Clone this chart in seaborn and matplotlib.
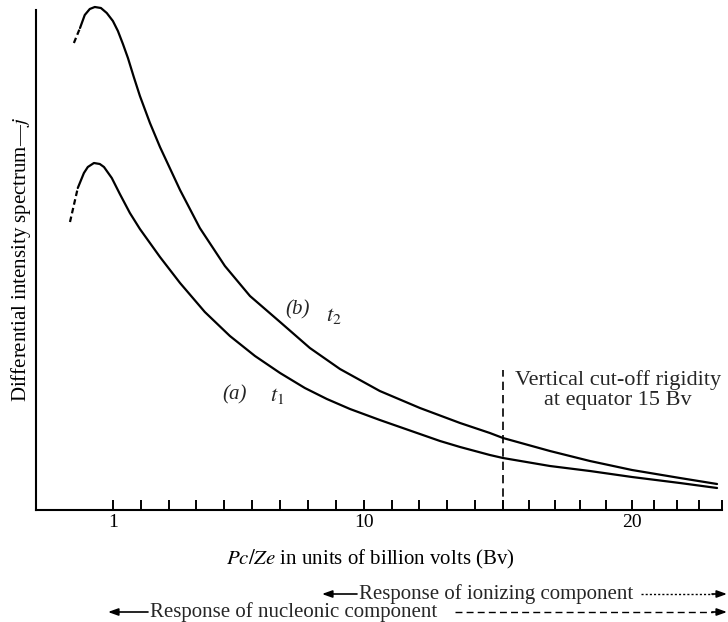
import numpy as np
import pandas as pd
import matplotlib
matplotlib.use("Agg")
import matplotlib.pyplot as plt
import seaborn as sns

# --- values (x in Bv, y in arbitrary units 0-100) ---
b_x = [-0.40, -0.18, -0.01, 0.17, 0.35, 0.57, 0.78, 1.00, 1.18, 1.36, 1.54,
       1.75, 1.97, 2.33, 2.69, 3.41, 4.12, 5.02, 5.92, 7.00, 8.07, 9.15,
       10.58, 12.02, 13.46, 14.53, 15.00, 16.82, 18.37, 20.00, 22.13, 23.78]
b_y = [93.4, 96.4, 99.0, 100.2, 100.6, 100.4, 99.4, 97.8, 95.8, 93.2, 90.4,
       86.6, 82.8, 77.4, 72.6, 64.0, 56.4, 48.8, 42.8, 37.6, 32.4, 28.2,
       23.8, 20.4, 17.4, 15.4, 14.4, 11.8, 9.8, 8.0, 6.4, 5.2]

a_x = [-0.54, -0.40, -0.26, -0.04, 0.10, 0.32, 0.53, 0.68, 0.96, 1.25, 1.61,
       1.97, 2.69, 3.41, 4.30, 5.20, 6.10, 7.00, 7.89, 8.68, 9.51, 10.58,
       12.74, 13.46, 14.53, 15.00, 16.82, 18.37, 20.00, 22.13, 23.78]
a_y = [57.6, 61.0, 64.4, 67.4, 68.6, 69.4, 69.2, 68.6, 66.4, 63.2, 59.4,
       56.2, 50.6, 45.4, 39.6, 34.8, 30.8, 27.4, 24.4, 22.2, 20.2, 18.0,
       13.8, 12.6, 11.0, 10.4, 8.8, 7.8, 6.6, 5.4, 4.4]

b_dashed = 2          # first points of each curve are drawn dashed
a_dashed = 3
cutoff = 15           # vertical cut-off rigidity (Bv)
cutoff_top = 28
label_ticks = [1, 10, 20]
all_ticks = list(range(1, 25))

# hand drawn axis: spacing shrinks a little towards the right
knots_x = [-10, 1, 15, 20, 24, 40]
knots_p = [-193.4, 113, 503, 632, 722, 1082]


def fwd(x):
    return np.interp(x, knots_x, knots_p)


def inv(p):
    return np.interp(p, knots_p, knots_x)


sns.set_theme(style="white")
plt.rcParams["font.family"] = ["Liberation Serif", "DejaVu Serif"]
plt.rcParams["mathtext.fontset"] = "stix"

fig = plt.figure(figsize=(7.28, 6.22), dpi=100)
ax = fig.add_axes([36 / 728, 112 / 622, 686 / 728, 500 / 622])

curve_b = pd.DataFrame({"x": b_x, "y": b_y})
curve_a = pd.DataFrame({"x": a_x, "y": a_y})

for df, nd in ((curve_b, b_dashed), (curve_a, a_dashed)):
    sns.lineplot(data=df.iloc[nd - 1:], x="x", y="y", sort=False,
                 estimator=None, color="black", lw=1.6, ax=ax, clip_on=False,
                 solid_joinstyle="round", solid_capstyle="round")
    sns.lineplot(data=df.iloc[:nd], x="x", y="y", sort=False,
                 estimator=None, color="black", lw=1.6, ax=ax, clip_on=False,
                 linestyle=(0, (2.5, 1.5)))

ax.plot([cutoff, cutoff], [0, cutoff_top], color="black", lw=1.2,
        linestyle=(0, (5, 3)))

ax.set_xscale("function", functions=(fwd, inv))
ax.set_xlim(-1.76, 24)
ax.set_ylim(0, 100)

ax.set_xticks(label_ticks)
ax.set_xticklabels([str(t) for t in label_ticks])
ax.set_xticks([t for t in all_ticks if t not in label_ticks], minor=True)
ax.tick_params(axis="x", which="both", bottom=True, direction="in", length=7,
               width=1.4, color="black", pad=3, labelsize=14,
               labelcolor="black")
ax.set_yticks([])

for side in ("top", "right"):
    ax.spines[side].set_visible(False)
for side in ("left", "bottom"):
    ax.spines[side].set_color("black")
    ax.spines[side].set_linewidth(1.5)

ax.set_xlabel(r"$Pc/Ze$ in units of billion volts (Bv)", fontsize=15,
              color="black")
ax.xaxis.set_label_coords(0.487, -0.076)
ax.set_ylabel(r"Differential intensity spectrum—$j$", fontsize=15,
              color="black")
ax.yaxis.set_label_coords(-0.005, 0.5)

# curve labels
ax.text(7.62, 40.0, "(b)", fontsize=15, style="italic", ha="center", va="center")
ax.text(8.92, 38.8, r"$t_2$", fontsize=16, ha="center", va="center")
ax.text(5.38, 23.0, "(a)", fontsize=15, style="italic", ha="center", va="center")
ax.text(6.89, 22.8, r"$t_1$", fontsize=16, ha="center", va="center")
ax.text(19.45, 24.0, "Vertical cut-off rigidity\nat equator 15 Bv",
        fontsize=16, ha="center", va="center", linespacing=1.1)

# response ranges below the axis (figure pixels)
arrow = dict(arrowstyle="-|>,head_length=0.5,head_width=0.18",
             color="black", lw=1.2, shrinkA=0, shrinkB=0)
kw = dict(xycoords="figure pixels", textcoords="figure pixels")

y_ion = 28
ax.annotate("", xy=(322, y_ion), xytext=(357, y_ion), arrowprops=arrow, **kw)
fig.text(359 / 728, y_ion / 622, "Response of ionizing component",
         fontsize=15, ha="left", va="center")
fig.add_artist(plt.Line2D([641 / 728, 713 / 728], [y_ion / 622, y_ion / 622],
                          color="black", lw=1.0, linestyle=(0, (1.5, 1.5))))
ax.annotate("", xy=(727, y_ion), xytext=(712, y_ion), arrowprops=arrow, **kw)

y_nuc = 10
ax.annotate("", xy=(108, y_nuc), xytext=(148, y_nuc), arrowprops=arrow, **kw)
fig.text(150 / 728, y_nuc / 622, "Response of nucleonic component",
         fontsize=15, ha="left", va="center")
fig.add_artist(plt.Line2D([455 / 728, 713 / 728], [y_nuc / 622, y_nuc / 622],
                          color="black", lw=1.0, linestyle=(0, (5, 3))))
ax.annotate("", xy=(727, y_nuc), xytext=(712, y_nuc), arrowprops=arrow, **kw)

fig.savefig("out.png", dpi=100, facecolor="white")
